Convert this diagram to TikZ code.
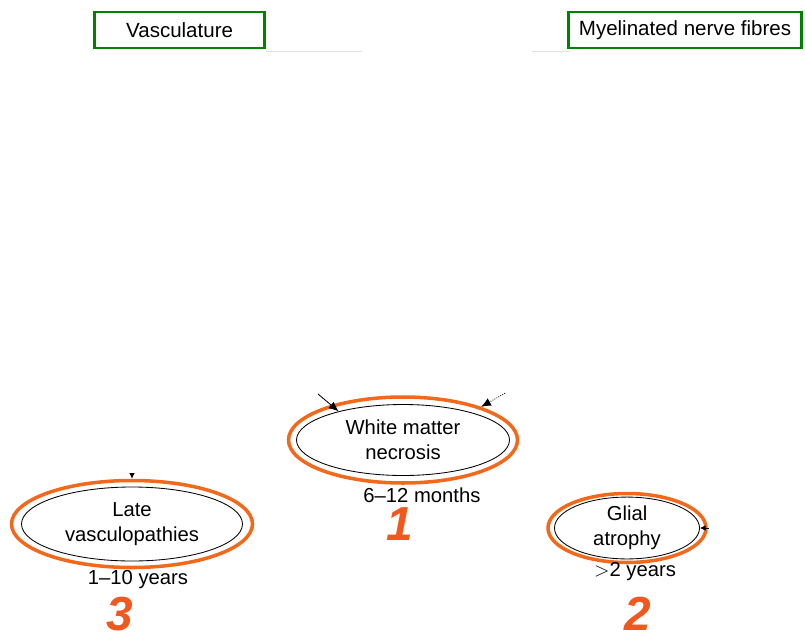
\documentclass[tikz,border=0pt]{standalone}
\usepackage{fontspec}
\setmainfont{Liberation Sans}
\usepackage{tikz}
\usetikzlibrary{shapes.geometric}
\usetikzlibrary{arrows.meta}
\definecolor{boxgreen}{RGB}{0,130,0}
\definecolor{ringorange}{RGB}{242,105,28}
\definecolor{numorange}{RGB}{240,88,30}

\begin{document}
\begin{tikzpicture}
\tikzset{tissue/.style = {shape=rectangle,draw=boxgreen,line width=2.1pt,inner sep=0pt,minimum height=0.9cm,font=\fontsize{14.6}{17}\selectfont}}
\tikzset{effect/.style = {shape=ellipse,draw,line width=0.6pt,inner sep=0pt,align=center,font=\fontsize{14.4}{17.7}\selectfont}}
\tikzset{ring/.style = {shape=ellipse,draw=ringorange,line width=2.5pt,inner sep=0pt}}
\tikzset{onset/.style = {inner sep=1pt,font=\fontsize{14.4}{17}\selectfont}}
\tikzset{rank/.style = {inner sep=0pt,text=numorange,font=\fontsize{34}{36}\selectfont\bfseries\itshape}}
\tikzset{edge/.style = {-{Latex[length=7pt,width=6pt]},line width=0.6pt}}
\useasboundingbox (0,0) rectangle (20.125,-15.875);
% tissues
\node[tissue,minimum width=4.25cm](vasc) at (4.49,-0.75) {Vasculature};
\node[tissue,minimum width=5.83cm](myel) at (17.125,-0.75) {Myelinated nerve fibres};
\draw[black!12,line width=0.4pt] (6.65,-1.28) -- (9.05,-1.28);
\draw[black!12,line width=0.4pt] (13.3,-1.28) -- (14.25,-1.28);
% late effects
\node[ring,minimum width=5.725cm,minimum height=2.15cm](wmnring) at (10.075,-11.0) {};
\node[effect,minimum width=5.325cm,minimum height=1.775cm](wmn) at (10.075,-11.0) {White matter\\necrosis};
\node[ring,minimum width=6.025cm,minimum height=2.175cm](lvring) at (3.3,-13.1) {};
\node[effect,minimum width=5.525cm,minimum height=1.85cm](lv) at (3.3,-13.1) {Late\\vasculopathies};
\node[ring,minimum width=3.95cm,minimum height=1.725cm](garing) at (15.675,-13.2) {};
\node[effect,minimum width=3.625cm,minimum height=1.45cm](ga) at (15.675,-13.2) {Glial\\atrophy};
% onset times
\node[onset](wmnt) at (10.55,-12.375) {6--12 months};
\node[onset](lvt) at (3.45,-14.5) {1--10 years};
\node[onset](gat) at (15.875,-14.3) {$>$2 years};
\node[rank](one) at (10.0,-13.1) {1};
\node[rank](three) at (3.0,-15.35) {3};
\node[rank](two) at (15.95,-15.35) {2};
% incoming arrows
\coordinate (inwmna) at (7.95,-9.85);
\coordinate (inwmnb) at (12.625,-9.83);
\coordinate (inlv) at (3.3,-11.9);
\coordinate (inga) at (17.72,-13.2);
\draw[edge] (inwmna) -- (wmn.156);
\draw[edge,densely dotted] (inwmnb) -- (wmnring.23);
\draw[edge,-{Latex[length=4pt,width=4pt]}] (inlv) -- (lvring.north);
\draw[edge,-{Latex[length=4pt,width=4pt]}] (inga) -- (ga.east);
\end{tikzpicture}
\end{document}
